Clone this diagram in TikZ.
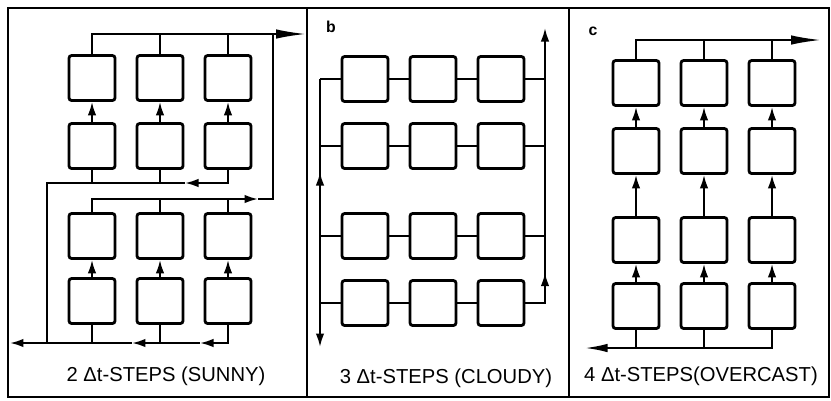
\documentclass[tikz,border=0pt]{standalone}
\usepackage{fontspec}
\setmainfont{Liberation Sans}
\usetikzlibrary{arrows.meta,decorations.markings}

\tikzset{
  cell/.style={draw, line width=1.6pt, rounded corners=1.5pt, minimum width=0.92cm, minimum height=0.9cm, inner sep=0pt},
  wire/.style={line width=1.1pt},
  frame/.style={line width=1pt},
  tip/.style={-{Latex[length=0.27cm,width=0.17cm]}},
  longtip/.style={-{Latex[length=0.6cm,width=0.19cm]}},
  midtip/.style={postaction={decorate,decoration={markings,mark=at position #1 with {\arrow{Latex[length=0.27cm,width=0.17cm]}}}}},
  caption/.style={font=\fontsize{11.5}{13}\selectfont},
  tag/.style={font=\small\bfseries}
}

\begin{document}
\begin{tikzpicture}[x=0.02cm, y=-0.02cm]
    \useasboundingbox (0,0) rectangle (831,400);

    % frame and dividers
    \draw[frame] (8,8) rectangle (829,397);
    \draw[frame] (307,8) -- (307,397);
    \draw[frame] (569,8) -- (569,397);

    % boxes
    \foreach \c/\x in {1/92,2/160,3/228}
        \foreach \r/\y in {1/78,2/146,3/236,4/301}
            \node[cell] (a\r\c) at (\x,\y) {};
    \foreach \c/\x in {1/365,2/433,3/501}
        \foreach \r/\y in {1/79,2/146,3/236,4/303}
            \node[cell] (b\r\c) at (\x,\y) {};
    \foreach \c/\x in {1/636,2/704,3/772}
        \foreach \r/\y in {1/83,2/151,3/240,4/306}
            \node[cell] (c\r\c) at (\x,\y) {};

    % panel a
    \coordinate (aOut) at (306,34);
    \coordinate (aR) at (273,34);
    \coordinate (aR1) at (258,199);
    \coordinate (aR2) at (273,199);
    \coordinate (aL0) at (185,183);
    \coordinate (aL1) at (47,183);
    \coordinate (aL2) at (47,343);
    \coordinate (aM1) at (200,343);
    \coordinate (aM2) at (132,343);
    \coordinate (aIn) at (10,343);

    \draw[wire, longtip] (a11.north) |- (aOut);
    \draw[wire] (a12.north) -- (a12.north |- aOut);
    \draw[wire] (a13.north) -- (a13.north |- aOut);
    \draw[wire, tip] (a31.north) |- (aR1);
    \draw[wire] (aR1) -- (aR2) -- (aR);
    \draw[wire] (a32.north) -- (a32.north |- aR2);
    \draw[wire] (a33.north) -- (a33.north |- aR2);
    \draw[wire, tip] (a23.south) |- (aL0);
    \draw[wire] (aL0) -- (aL1) -- (aL2);
    \draw[wire] (a21.south) -- (a21.south |- aL1);
    \draw[wire] (a22.south) -- (a22.south |- aL1);
    \draw[wire, tip] (a43.south) |- (aM1);
    \draw[wire, tip] (aM1) -- (aM2);
    \draw[wire, tip] (aM2) -- (aIn);
    \draw[wire] (a41.south) -- (a41.south |- aIn);
    \draw[wire] (a42.south) -- (a42.south |- aIn);
    \foreach \c in {1,2,3} {
        \draw[wire, tip] (a2\c.north) -- (a1\c.south);
        \draw[wire, tip] (a4\c.north) -- (a3\c.south);
    }
    \node[caption] (capA) at (166,376) {2 Δt-STEPS (SUNNY)};

    % panel b
    \coordinate (bLt) at (320,79);
    \coordinate (bLb) at (320,347);
    \coordinate (bRt) at (545,28);

    \draw[wire, {Latex[length=0.27cm,width=0.17cm]}-, midtip=3.5cm] (bLb) -- (bLt);
    \draw[wire, tip, midtip=1cm] (b43.east) -| (bRt);
    \foreach \r in {1,2,3,4} {
        \draw[wire] (b\r1.west -| bLt) -- (b\r1.west);
        \draw[wire] (b\r1) -- (b\r2);
        \draw[wire] (b\r2) -- (b\r3);
    }
    \foreach \r in {1,2,3}
        \draw[wire] (b\r3.east) -- (b\r3.east -| bRt);
    \node[tag] (tagB) at (331,27) {b};
    \node[caption] (capB) at (446,378) {3 Δt-STEPS (CLOUDY)};

    % panel c
    \coordinate (cOut) at (821,40);
    \coordinate (cIn) at (585,348);

    \draw[wire, longtip] (c11.north) |- (cOut);
    \draw[wire] (c12.north) -- (c12.north |- cOut);
    \draw[wire] (c13.north) -- (c13.north |- cOut);
    \draw[wire, {Latex[length=0.45cm,width=0.17cm]}-] (cIn) -| (c43.south);
    \draw[wire] (c41.south) -- (c41.south |- cIn);
    \draw[wire] (c42.south) -- (c42.south |- cIn);
    \foreach \c in {1,2,3} {
        \draw[wire, tip] (c2\c.north) -- (c1\c.south);
        \draw[wire, tip] (c3\c.north) -- (c2\c.south);
        \draw[wire, tip] (c4\c.north) -- (c3\c.south);
    }
    \node[tag] (tagC) at (593,31) {c};
    \node[caption] (capC) at (701,376) {4 Δt-STEPS(OVERCAST)};
\end{tikzpicture}
\end{document}
